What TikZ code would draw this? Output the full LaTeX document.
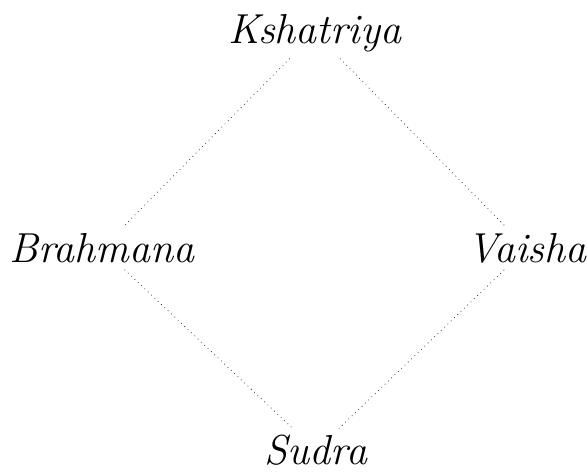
\documentclass[tikz,border=0pt]{standalone}
\tikzset{
  varna/.style={font=\fontsize{22}{26}\selectfont\itshape},
  legame/.style={black!80, dotted}
}
\begin{document}
\begin{tikzpicture}
            \useasboundingbox (0,0) rectangle (10.83,8.75);

            % I quattro nomi ai vertici del rombo
            \node[varna] (kshatriya) at (5.81,8.14) {Kshatriya};
            \node[varna] (brahmana) at (1.88,4.17) {Brahmana};
            \node[varna] (vaisha) at (9.72,4.17) {Vaisha};
            \node[varna] (sudra) at (5.83,0.44) {Sudra};

            % Lati del rombo, punteggiati
            \draw[legame] (kshatriya) -- (brahmana);
            \draw[legame] (kshatriya) -- (vaisha);
            \draw[legame] (brahmana) -- (sudra);
            \draw[legame] (vaisha) -- (sudra);
        \end{tikzpicture}
\end{document}
